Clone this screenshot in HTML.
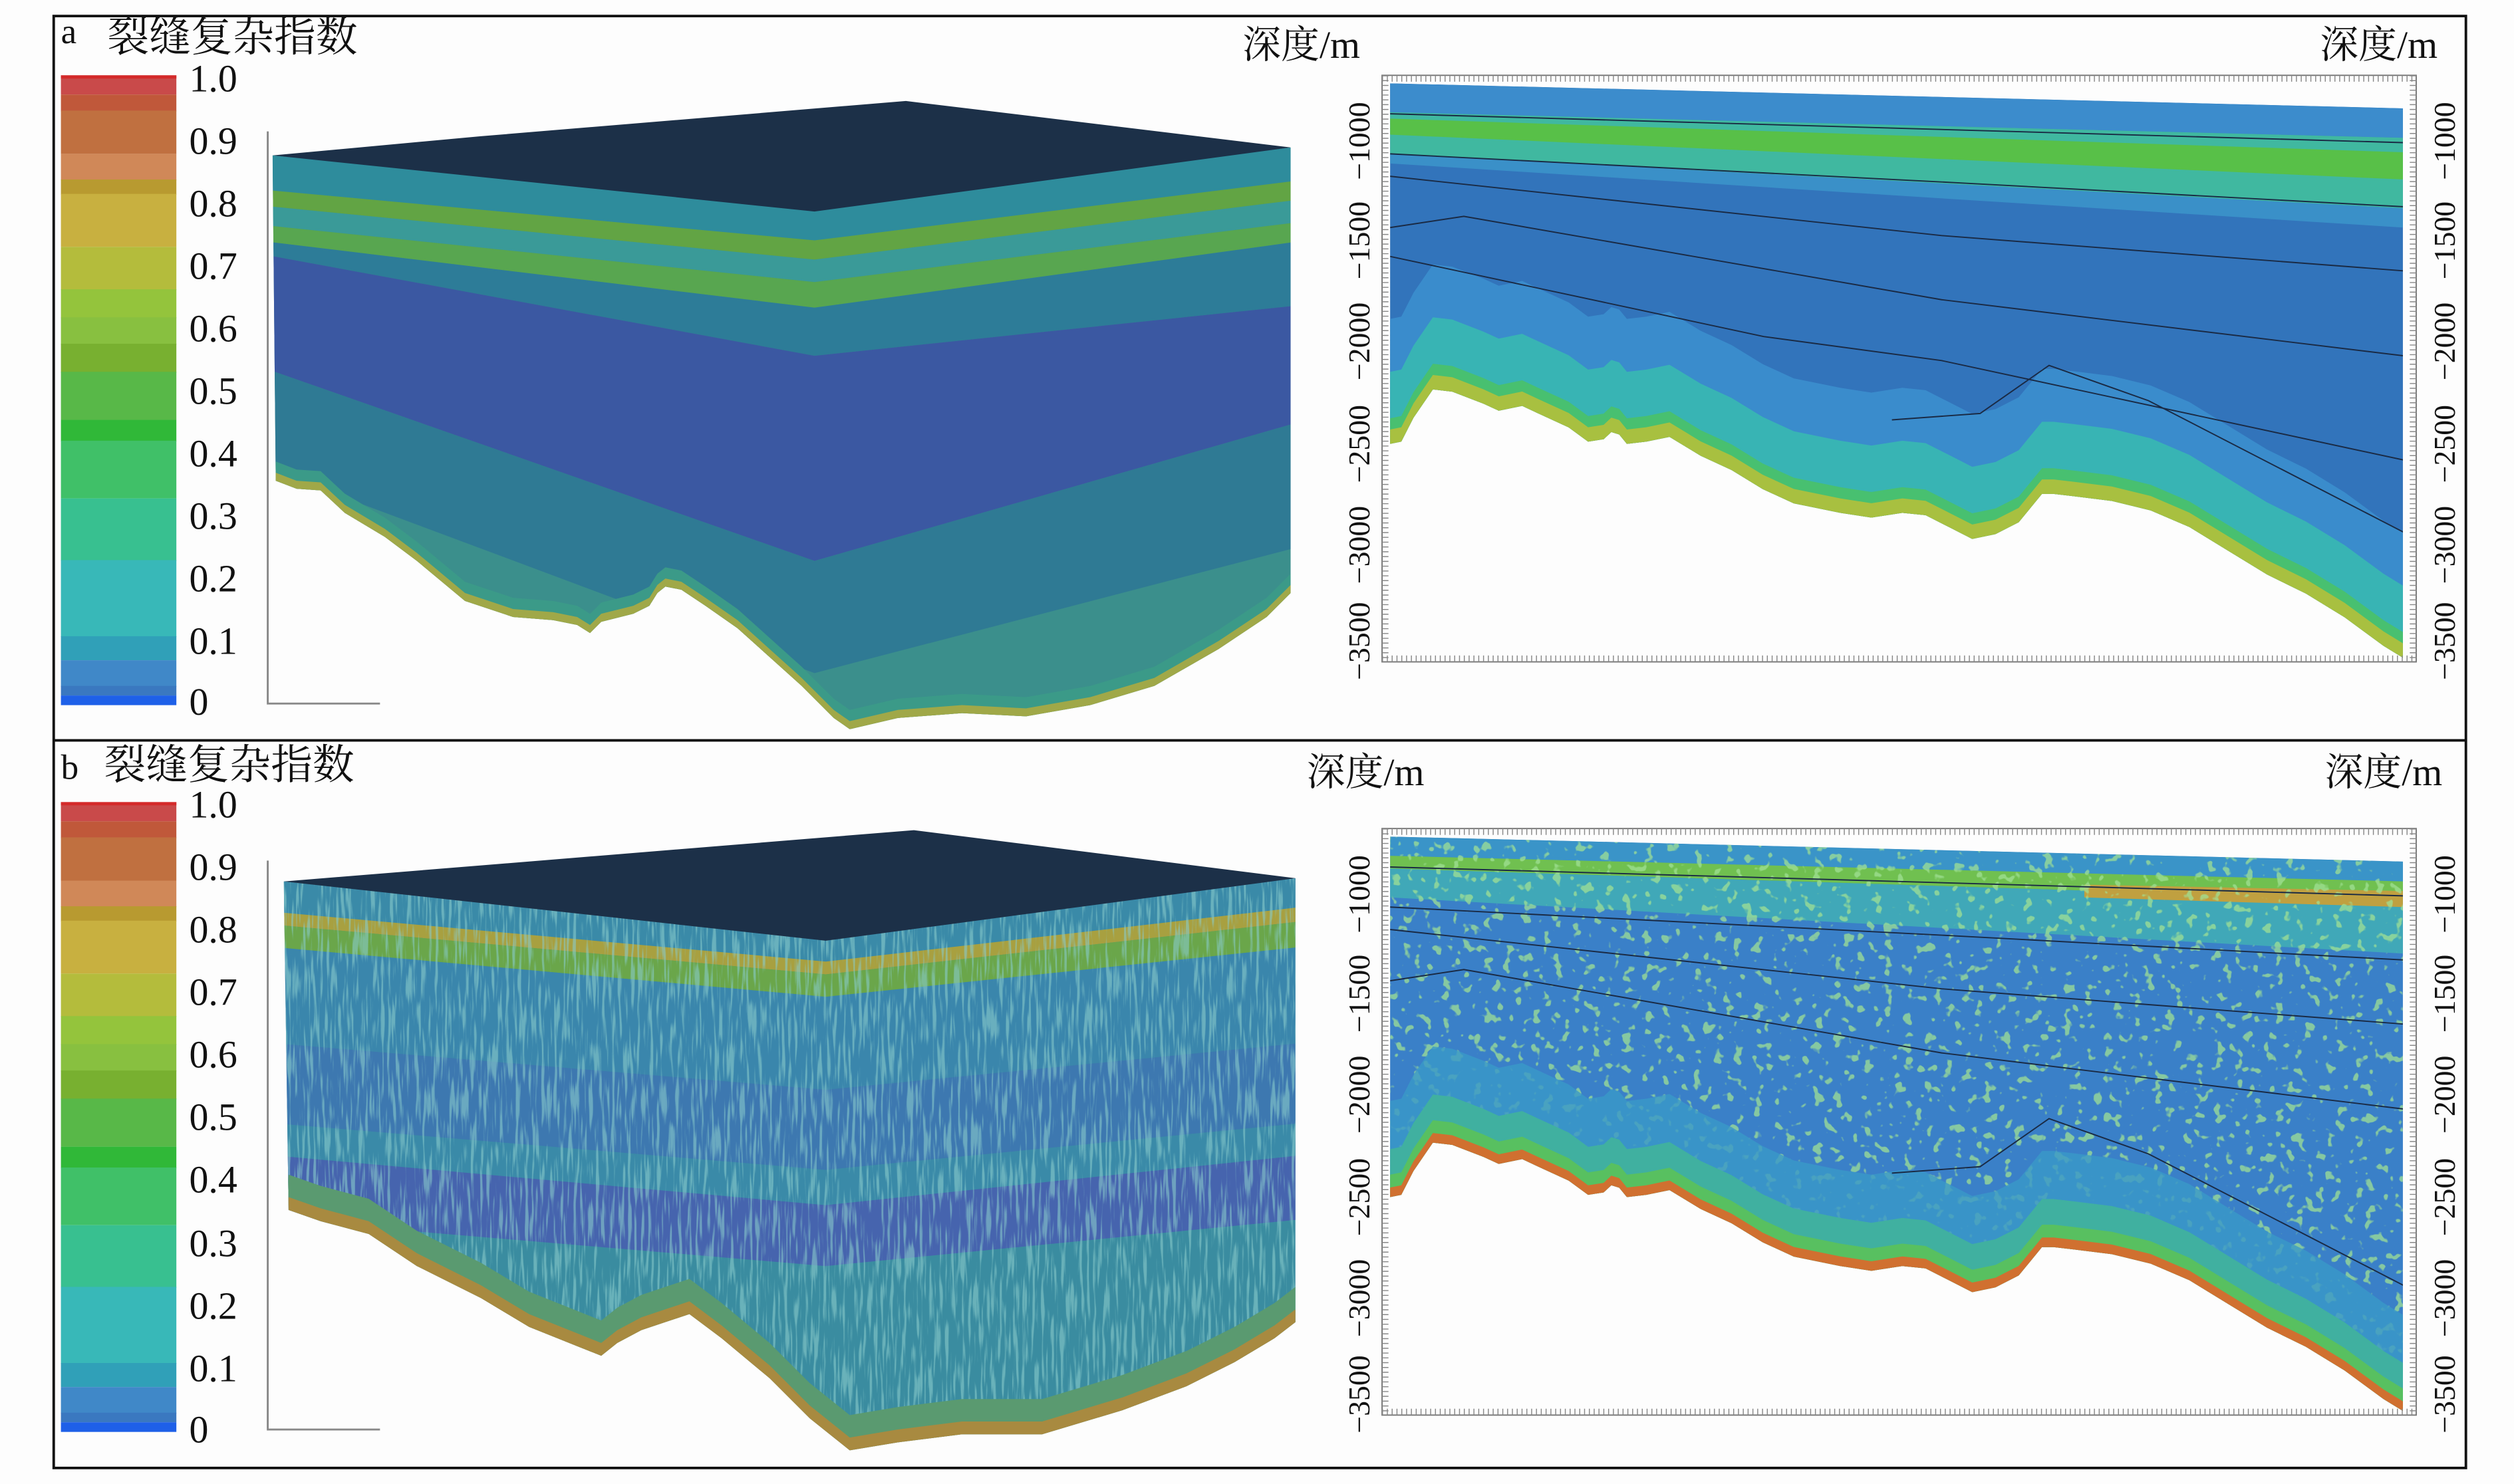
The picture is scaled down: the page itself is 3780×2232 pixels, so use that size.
<!DOCTYPE html>
<html><head><meta charset="utf-8"><style>
html,body{margin:0;padding:0;background:#fff;width:3780px;height:2232px;overflow:hidden;}
svg{display:block;}
text{font-family:"Liberation Serif","Noto Serif CJK SC","Noto Sans CJK SC",serif;fill:#111;}
</style></head><body>
<svg width="3780" height="2232" viewBox="0 0 1568 926" preserveAspectRatio="none" xmlns="http://www.w3.org/2000/svg">
<defs>
<clipPath id="secClip"><polygon points="867,52 1498.7,67.6 1498.7,410.4 1486.6,403 1462.4,385.2 1438.2,370.4 1414,358.5 1389.8,343.7 1365.6,328.9 1341.4,318.5 1317.2,312.6 1293,309.6 1280.9,308.2 1273.6,308.2 1259.1,325.9 1244.6,333.3 1230.1,336.3 1215.6,328.9 1201,321.5 1186.5,320 1167.2,323 1147.8,320 1118.8,314.1 1099.4,305.2 1080,293.3 1060.7,284.4 1041.3,272.6 1026.8,275.6 1014.7,277 1009.9,271.1 1005,269.6 1000.2,274.1 990.5,275.6 978.4,266.7 959,257.8 949.4,253.3 934.8,256.3 925.2,251.9 905.8,244.4 893.7,243 881.6,260.7 874,275.6 867,277"/></clipPath>
<polygon id="secBot" points="867,277 874,275.6 881.6,260.7 893.7,243 905.8,244.4 925.2,251.9 934.8,256.3 949.4,253.3 959,257.8 978.4,266.7 990.5,275.6 1000.2,274.1 1005,269.6 1009.9,271.1 1014.7,277 1026.8,275.6 1041.3,272.6 1060.7,284.4 1080,293.3 1099.4,305.2 1118.8,314.1 1147.8,320 1167.2,323 1186.5,320 1201,321.5 1215.6,328.9 1230.1,336.3 1244.6,333.3 1259.1,325.9 1273.6,308.2 1280.9,308.2 1293,309.6 1317.2,312.6 1341.4,318.5 1365.6,328.9 1389.8,343.7 1414,358.5 1438.2,370.4 1462.4,385.2 1486.6,403 1498.7,410.4 1510,600 860,600"/>
<clipPath id="faceA"><polygon points="170,97 508,130 805,92 805,370 790,385 760,405 720,428 680,440 640,447 600,445 560,448 530,455 520,448 500,428 480,410 460,392 440,378 425,368 415,366 410,370 405,378 395,383 375,388 368,395 360,390 345,387 320,385 290,375 260,350 240,335 215,320 200,306 185,305 172,300"/></clipPath>
<polygon id="botA" points="172,300 185,305 200,306 215,320 240,335 260,350 290,375 320,385 345,387 360,390 368,395 375,388 395,383 405,378 410,370 415,366 425,368 440,378 460,392 480,410 500,428 520,448 530,455 560,448 600,445 640,447 680,440 720,428 760,405 790,385 805,370 820,600 160,600"/>
<clipPath id="faceB"><polygon points="177,550 515,585 808,548 808,825 795,835 770,850 740,865 700,880 650,895 600,895 560,900 530,905 505,885 480,860 450,835 430,820 415,825 400,830 385,838 375,846 360,840 330,828 300,810 260,790 230,770 200,762 180,755"/></clipPath>
<polygon id="botB" points="180,755 200,762 230,770 260,790 300,810 330,828 360,840 375,846 385,838 400,830 415,825 430,820 450,835 480,860 505,885 530,905 560,900 600,895 650,895 700,880 740,865 770,850 795,835 808,825 820,1000 160,1000"/>
<filter id="spk" x="0" y="0" width="100%" height="100%">
<feTurbulence type="fractalNoise" baseFrequency="0.16" numOctaves="2" seed="3"/>
<feColorMatrix type="matrix" values="0 0 0 0 0.35  0 0 0 0 0.75  0 0 0 0 0.3  14 0 0 0 -8.6"/>
</filter>
<filter id="spk2" x="0" y="0" width="100%" height="100%">
<feTurbulence type="fractalNoise" baseFrequency="0.5 0.04" numOctaves="2" seed="7"/>
<feColorMatrix type="matrix" values="0 0 0 0 0.25  0 0 0 0 0.6  0 0 0 0 0.6  0 6 0 0 -3"/>
</filter>
<g id="secFrame">
<rect x="862" y="47" width="645" height="366" fill="none" stroke="#777" stroke-width="0.8"/>
<line x1="862" y1="49" x2="1507" y2="49" stroke="#888" stroke-width="4" stroke-dasharray="0.6 2.4"/>
<line x1="862" y1="411" x2="1507" y2="411" stroke="#888" stroke-width="4" stroke-dasharray="0.6 2.4"/>
<line x1="864" y1="47" x2="864" y2="413" stroke="#888" stroke-width="4" stroke-dasharray="0.6 2.4"/>
<line x1="1505" y1="47" x2="1505" y2="413" stroke="#888" stroke-width="4" stroke-dasharray="0.6 2.4"/>
<g font-size="19" text-anchor="middle">
<text transform="translate(854,88) rotate(-90)">−1000</text>
<text transform="translate(854,150) rotate(-90)">−1500</text>
<text transform="translate(854,213) rotate(-90)">−2000</text>
<text transform="translate(854,277) rotate(-90)">−2500</text>
<text transform="translate(854,340) rotate(-90)">−3000</text>
<text transform="translate(854,400) rotate(-90)">−3500</text>
<text transform="translate(1531,88) rotate(-90)">−1000</text>
<text transform="translate(1531,150) rotate(-90)">−1500</text>
<text transform="translate(1531,213) rotate(-90)">−2000</text>
<text transform="translate(1531,277) rotate(-90)">−2500</text>
<text transform="translate(1531,340) rotate(-90)">−3000</text>
<text transform="translate(1531,400) rotate(-90)">−3500</text>
</g>
</g>
<g id="cbar">
<rect x="38" y="47" width="72" height="12" fill="#c94a4a"/>
<rect x="38" y="47" width="72" height="2" fill="#d42a2a"/>
<rect x="38" y="59" width="72" height="10.5" fill="#c0583a"/>
<rect x="38" y="69" width="72" height="27" fill="#c07040"/>
<rect x="38" y="96" width="72" height="16.5" fill="#d08858"/>
<rect x="38" y="112" width="72" height="9.5" fill="#b89a30"/>
<rect x="38" y="121" width="72" height="33" fill="#c8b040"/>
<rect x="38" y="154" width="72" height="27" fill="#b4bc3c"/>
<rect x="38" y="180.5" width="72" height="18" fill="#94c43c"/>
<rect x="38" y="198" width="72" height="17" fill="#88c040"/>
<rect x="38" y="214.5" width="72" height="18" fill="#78b030"/>
<rect x="38" y="232" width="72" height="30" fill="#58b848"/>
<rect x="38" y="262" width="72" height="13.5" fill="#30b838"/>
<rect x="38" y="275" width="72" height="36" fill="#40c068"/>
<rect x="38" y="311" width="72" height="39" fill="#38c090"/>
<rect x="38" y="349.5" width="72" height="48" fill="#38b8b8"/>
<rect x="38" y="397" width="72" height="15" fill="#30a0b8"/>
<rect x="38" y="412" width="72" height="16.5" fill="#4088c8"/>
<rect x="38" y="428" width="72" height="6" fill="#3a78c0"/>
<rect x="38" y="434" width="72" height="6" fill="#1e60e8"/>
</g>
</defs>

<rect x="0" y="0" width="1568" height="926" fill="#fdfdfd"/>
<rect x="33.5" y="10" width="1504.5" height="906" fill="none" stroke="#111" stroke-width="1.6"/>
<line x1="33.5" y1="462" x2="1538" y2="462" stroke="#111" stroke-width="1.6"/>

<!-- PANEL A -->
<text x="38" y="27" font-size="22">a</text>
<text x="67" y="32" font-size="26" style="font-family:'Noto Serif CJK SC','Noto Sans CJK SC',serif">裂缝复杂指数</text>
<use href="#cbar"/>
<g font-size="24">
<text x="118" y="57">1.0</text><text x="118" y="96">0.9</text><text x="118" y="135">0.8</text><text x="118" y="174">0.7</text><text x="118" y="213">0.6</text><text x="118" y="252">0.5</text><text x="118" y="291">0.4</text><text x="118" y="330">0.3</text><text x="118" y="369">0.2</text><text x="118" y="408">0.1</text><text x="118" y="446">0</text>
</g>
<polyline points="167,82 167,439 237,439" fill="none" stroke="#888" stroke-width="1.2"/>
<g clip-path="url(#faceA)">
<rect x="160" y="80" width="660" height="400" fill="#3b8f8c"/>
<polygon points="160,90 508,125 815,85 815,112 508,150 160,118" fill="#2e8c9c"/>
<polygon points="160,118 508,150 815,112 815,124 508,162 160,128" fill="#62a444"/>
<polygon points="160,128 508,162 815,124 815,138 508,176 160,140" fill="#3a9a98"/>
<polygon points="160,140 508,176 815,138 815,150 508,192 160,150" fill="#58a650"/>
<polygon points="160,150 508,192 815,150 815,190 508,222 160,158" fill="#2d7c98"/>
<polygon points="160,158 508,222 815,190 815,262 508,350 160,228" fill="#3b58a2"/>
<polygon points="160,228 508,350 815,262 815,340 508,420 160,290" fill="#2f7a94"/>
<use href="#botA" transform="translate(0,-12)" fill="#3b9a88"/>
<use href="#botA" transform="translate(0,-5)" fill="#a0a848"/>
</g>
<polygon points="170,97 300,85 565,63 805,92 508,132" fill="#1c3048"/>

<!-- section a -->
<g clip-path="url(#secClip)">
<rect x="860" y="40" width="650" height="380" fill="#3274bb"/>
<polygon points="867,52 1499,67.6 1499,86 867,70" fill="#3c8ccc"/>
<polygon points="867,70 1499,86 1499,130 867,96" fill="#40b8a0"/>
<polygon points="867,74 1499,95 1499,112 867,84" fill="#58c048"/>
<polygon points="867,96 1499,130 1499,142 867,102" fill="#3a90c8"/>
<use href="#secBot" transform="translate(0,-78)" fill="#3a8ccc"/>
<use href="#secBot" transform="translate(0,-45)" fill="#38b4b4"/>
<use href="#secBot" transform="translate(0,-16)" fill="#48c070"/>
<use href="#secBot" transform="translate(0,-9)" fill="#a8c040"/>
<g fill="none" stroke="#1a2a44" stroke-width="0.8">
<polyline points="867,71 1499,89"/>
<polyline points="867,96 1220,114 1499,129"/>
<polyline points="867,110 1211,147 1499,169"/>
<polyline points="867,142 913,135 1211,187 1499,222"/>
<polyline points="867,160 1100,210 1211,225 1499,287"/>
<polyline points="1180,262 1235,258 1278,228 1340,250 1499,332"/>
</g>
</g>
<use href="#secFrame"/>
<text x="775" y="36" font-size="24">深度/m</text>
<text x="1447" y="36" font-size="24">深度/m</text>

<!-- PANEL B -->
<text x="38" y="486" font-size="22">b</text>
<text x="65" y="486" font-size="26" style="font-family:'Noto Serif CJK SC','Noto Sans CJK SC',serif">裂缝复杂指数</text>
<use href="#cbar" transform="translate(0,453.5)"/>
<g font-size="24">
<text x="118" y="510">1.0</text><text x="118" y="549">0.9</text><text x="118" y="588">0.8</text><text x="118" y="627">0.7</text><text x="118" y="666">0.6</text><text x="118" y="705">0.5</text><text x="118" y="744">0.4</text><text x="118" y="784">0.3</text><text x="118" y="823">0.2</text><text x="118" y="862">0.1</text><text x="118" y="900">0</text>
</g>
<polyline points="167,537 167,892 237,892" fill="none" stroke="#888" stroke-width="1.2"/>
<g clip-path="url(#faceB)">
<rect x="160" y="530" width="660" height="400" fill="#3a8ca0"/>
<polygon points="160,540 515,578 820,540 820,565 515,600 160,568" fill="#3a8aa8"/>
<polygon points="160,568 515,600 820,565 820,574 515,608 160,576" fill="#a8a040"/>
<polygon points="160,576 515,608 820,574 820,590 515,622 160,590" fill="#6aa64a"/>
<polygon points="160,590 515,622 820,590 820,650 515,680 160,650" fill="#3a86ac"/>
<polygon points="160,650 515,680 820,650 820,700 515,730 160,700" fill="#3d78b0"/>
<polygon points="160,700 515,730 820,700 820,720 515,752 160,720" fill="#3a8aa8"/>
<polygon points="160,720 515,752 820,720 820,760 515,790 160,760" fill="#4664ae"/>
<rect x="160" y="530" width="660" height="400" filter="url(#spk2)" opacity="0.6"/>
<use href="#botB" transform="translate(0,-22)" fill="#5a9a70"/>
<use href="#botB" transform="translate(0,-8)" fill="#a88a40"/>
</g>
<polygon points="177,550 300,540 570,518 808,548 515,587" fill="#1c3048"/>

<!-- section b -->
<g transform="translate(0,470)">
<g clip-path="url(#secClip)">
<rect x="860" y="40" width="650" height="380" fill="#3a80c8"/>
<polygon points="867,52 1499,67.6 1499,80 867,64" fill="#3a94c8"/>
<polygon points="867,64 1499,80 1499,92 867,72" fill="#70c050"/>
<polygon points="867,72 1499,92 1499,125 867,90" fill="#40a8b8"/>
<polygon points="1300,82 1499,86 1499,96 1300,90" fill="#c0a040"/>
<rect x="860" y="40" width="650" height="380" filter="url(#spk)" opacity="0.75"/>
<use href="#secBot" transform="translate(0,-60)" fill="#3a98c8" opacity="0.8"/>
<use href="#secBot" transform="translate(0,-30)" fill="#40b0a0"/>
<use href="#secBot" transform="translate(0,-14)" fill="#58c060"/>
<use href="#secBot" transform="translate(0,-6)" fill="#d07030"/>
<g fill="none" stroke="#1a2a44" stroke-width="0.8">
<polyline points="867,71 1499,89"/>
<polyline points="867,96 1220,114 1499,129"/>
<polyline points="867,110 1211,147 1499,169"/>
<polyline points="867,142 913,135 1211,187 1499,222"/>
<polyline points="1180,262 1235,258 1278,228 1340,250 1499,332"/>
</g>
</g>
<use href="#secFrame"/>
</g>
<text x="815" y="490" font-size="24">深度/m</text>
<text x="1450" y="490" font-size="24">深度/m</text>
</svg>
</body></html>
